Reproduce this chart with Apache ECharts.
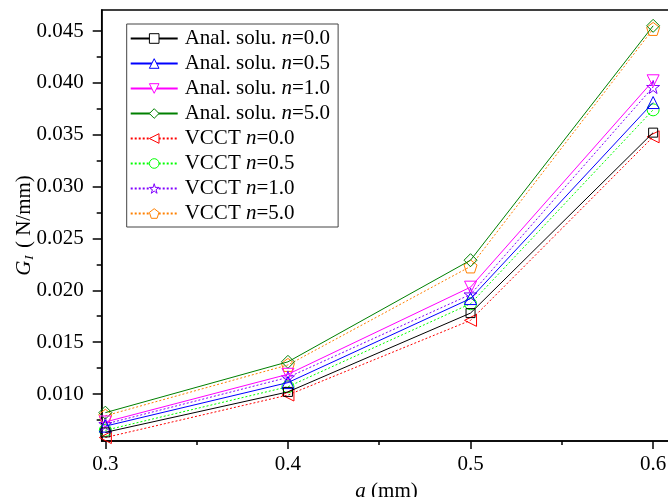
<!DOCTYPE html>
<html>
<head>
<meta charset="utf-8">
<script src="https://cdn.jsdelivr.net/npm/echarts@6/dist/echarts.min.js"></script>
<style>html,body{margin:0;padding:0;background:#fff;}#c{width:668px;height:497px;}</style>
</head>
<body>
<div id="c"></div>
<script>
// ---- data ----
var aValues = [0.3, 0.4, 0.5, 0.6];
var analN00 = [0.0063, 0.0102, 0.0178, 0.0352];
var analN05 = [0.0069, 0.0111, 0.0192, 0.0381];
var analN10 = [0.0073, 0.0119, 0.0203, 0.0402];
var analN50 = [0.0082, 0.0131, 0.0229, 0.0455];
var vcctN00 = [0.0058, 0.0099, 0.0171, 0.0348];
var vcctN05 = [0.0065, 0.0107, 0.0187, 0.0374];
var vcctN10 = [0.0071, 0.0116, 0.0196, 0.0396];
var vcctN50 = [0.0079, 0.0128, 0.0223, 0.0452];
var seriesNames = ['Anal. solu. n=0.0', 'Anal. solu. n=0.5', 'Anal. solu. n=1.0', 'Anal. solu. n=5.0',
                   'VCCT n=0.0', 'VCCT n=0.5', 'VCCT n=1.0', 'VCCT n=5.0'];
var xMajorTicks = [0.3, 0.4, 0.5, 0.6];
var xMinorTicks = [0.35, 0.45, 0.55];
var yMajorTicks = [0.010, 0.015, 0.020, 0.025, 0.030, 0.035, 0.040, 0.045];
var yMinorTicks = [0.0075, 0.0125, 0.0175, 0.0225, 0.0275, 0.0325, 0.0375, 0.0425];

// ---- styles ----
var FONT = "'Liberation Serif','Times New Roman',serif";
var allValues = [analN00, analN05, analN10, analN50, vcctN00, vcctN05, vcctN10, vcctN50];
var colors = ['#000000', '#0000ff', '#ff00ff', '#008000', '#ff0000', '#00ff00', '#8000ff', '#ff8000'];
var symbols = ['rect', 'triangle', 'path://M0,0 L100,0 L50,87 Z', 'diamond',
  'path://M0,50 L87,0 L87,100 Z', 'circle',
  'path://M50,0 L61,35 L98,35 L68,57 L79,91 L50,70 L21,91 L32,57 L2,35 L39,35 Z',
  'path://M50,0 L98,35 L79,91 L21,91 L2,35 Z'];
var sizes = [9, 12, 12, 13, 12, 12, 13, 13];

var X_MIN = 0.298, X_MAX = 0.61, Y_MIN = 0.005467, Y_MAX = 0.047025;

var series = allValues.map(function (vals, i) {
  var dashed = i >= 4;
  return {
    name: seriesNames[i],
    type: 'line',
    xAxisIndex: 0, yAxisIndex: 0,
    data: aValues.map(function (a, k) { return [a, vals[k]]; }),
    symbol: symbols[i],
    symbolSize: sizes[i],
    color: colors[i],
    lineStyle: { color: colors[i], width: 1, type: dashed ? [2, 2] : 'solid' },
    itemStyle: { color: 'rgba(255,255,255,0)', borderColor: colors[i], borderWidth: 1 },
    z: 10 - i,
    animation: false
  };
});

var legendData = seriesNames.map(function (n, i) {
  return { name: n, itemStyle: { color: '#ffffff', borderColor: colors[i], borderWidth: 1 } };
});

var chart = echarts.init(document.getElementById('c'), null, { renderer: 'canvas' });
chart.setOption({
  backgroundColor: '#fff',
  animation: false,
  grid: { left: 101.7, top: 10, right: -3.4, bottom: 56, show: true, borderColor: '#000', borderWidth: 1.5,
          containLabel: false, outerBoundsMode: 'none' },
  legend: {
    orient: 'vertical',
    left: 126.7, top: 24,
    padding: [4, 8, 3, 3],
    borderColor: '#444', borderWidth: 1,
    itemWidth: 47, itemHeight: 12, itemGap: 4,
    data: legendData,
    formatter: function (name) { return name.replace('n=', '{i|n}='); },
    textStyle: {
      fontFamily: FONT, fontSize: 21, color: '#000', lineHeight: 21, padding: [0, 0, 0, 2],
      rich: { i: { fontFamily: FONT, fontSize: 21, fontStyle: 'italic', color: '#000', lineHeight: 21 } }
    }
  },
  xAxis: [{
    type: 'value', min: X_MIN, max: X_MAX,
    name: '{i|a} (mm)', nameLocation: 'middle', nameGap: 40,
    nameTextStyle: { fontFamily: FONT, fontSize: 21, color: '#000',
      rich: { i: { fontFamily: FONT, fontSize: 21, fontStyle: 'italic', color: '#000' } } },
    axisLine: { show: true, lineStyle: { color: '#000', width: 1.5 } },
    axisTick: { show: true, inside: false, length: 8, lineStyle: { color: '#000', width: 1.5 }, customValues: xMajorTicks },
    axisLabel: { show: true, margin: 13, fontFamily: FONT, fontSize: 21, color: '#000', customValues: xMajorTicks,
      formatter: function (v) { return v.toFixed(1); } },
    splitLine: { show: false }
  }, {
    type: 'value', min: X_MIN, max: X_MAX, position: 'bottom',
    axisLine: { show: false },
    axisTick: { show: true, inside: false, length: 4, lineStyle: { color: '#000', width: 1.5 }, customValues: xMinorTicks },
    axisLabel: { show: false },
    splitLine: { show: false }
  }],
  yAxis: [{
    type: 'value', min: Y_MIN, max: Y_MAX,
    name: '{g|G}{s|I}{t| ( N/mm)}', nameLocation: 'middle', nameGap: 66, nameRotate: 90, nameMoveOverlap: false,
    nameTextStyle: { fontFamily: FONT, fontSize: 21, color: '#000',
      rich: {
        g: { fontFamily: FONT, fontSize: 21, fontStyle: 'italic', color: '#000' },
        s: { fontFamily: FONT, fontSize: 13, fontStyle: 'italic', color: '#000', padding: [10, 2, 0, 1] },
        t: { fontFamily: FONT, fontSize: 21, color: '#000' }
      } },
    axisLine: { show: true, lineStyle: { color: '#000', width: 1.5 } },
    axisTick: { show: true, inside: false, length: 9, lineStyle: { color: '#000', width: 1.5 }, customValues: yMajorTicks },
    axisLabel: { show: true, margin: 18, fontFamily: FONT, fontSize: 21, color: '#000', customValues: yMajorTicks,
      formatter: function (v) { return v.toFixed(3); } },
    splitLine: { show: false }
  }, {
    type: 'value', min: Y_MIN, max: Y_MAX, position: 'left',
    axisLine: { show: false },
    axisTick: { show: true, inside: false, length: 5, lineStyle: { color: '#000', width: 1.5 }, customValues: yMinorTicks },
    axisLabel: { show: false },
    splitLine: { show: false }
  }],
  series: series
});
</script>
</body>
</html>
